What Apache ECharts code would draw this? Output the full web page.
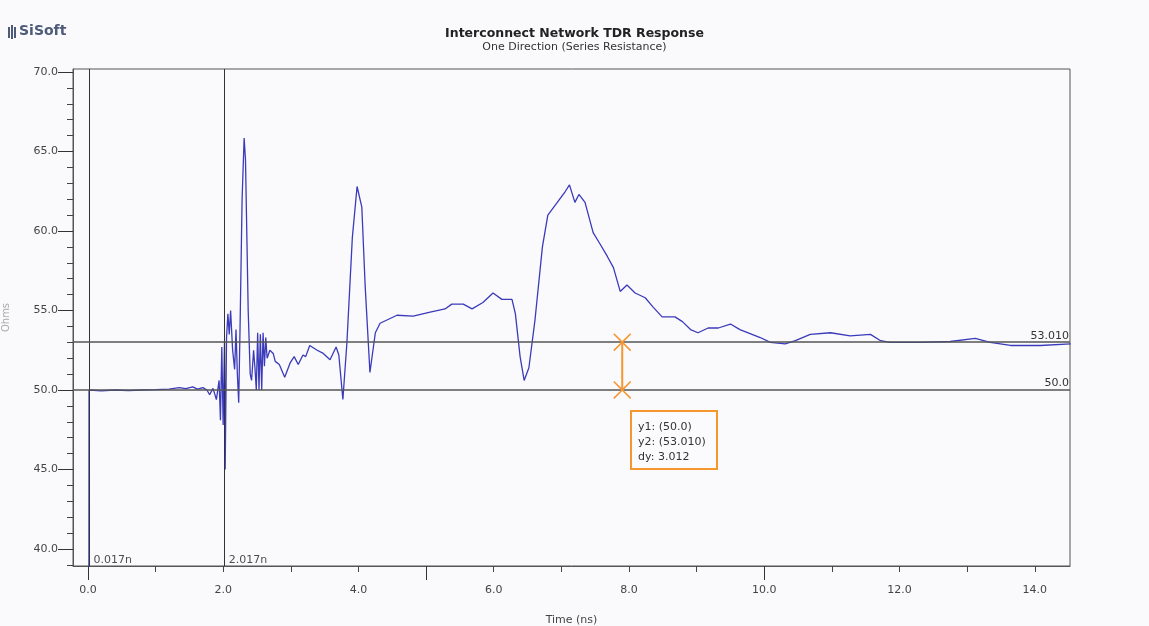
<!DOCTYPE html>
<html lang="en">
<head>
    <meta charset="UTF-8">
    <title>Interconnect Network TDR Response</title>
    <script src="https://cdn.jsdelivr.net/npm/echarts@6/dist/echarts.min.js"></script>
    <style>
        html, body { margin: 0; padding: 0; background: #fafafc; }
        #chart { width: 1149px; height: 626px; }
    </style>
</head>
<body>
<div id="chart"></div>
<script type="text/javascript">
    // TDR trace (time in ns, impedance in ohms)
    var timeNs = [0.015, 0.017, 0.2, 0.4, 0.6, 0.8, 1.0, 1.2, 1.35, 1.45, 1.55, 1.62, 1.7, 1.76,
        1.80, 1.85, 1.90, 1.94, 1.96, 1.98, 2.00, 2.02, 2.03, 2.05, 2.07, 2.09, 2.11, 2.14, 2.17,
        2.19, 2.21, 2.23, 2.25, 2.28, 2.31, 2.33, 2.37, 2.40, 2.42, 2.45, 2.47, 2.49, 2.51, 2.53,
        2.55, 2.57, 2.59, 2.61, 2.63, 2.65, 2.69, 2.74, 2.77, 2.83, 2.91, 2.99, 3.05, 3.11, 3.18,
        3.22, 3.28, 3.39, 3.48, 3.58, 3.67, 3.71, 3.77, 3.83, 3.91, 3.98, 4.05, 4.10, 4.17, 4.25,
        4.32, 4.57, 4.81, 5.06, 5.28, 5.38, 5.55, 5.68, 5.84, 5.99, 6.12, 6.27, 6.32, 6.39, 6.45,
        6.52, 6.61, 6.72, 6.80, 6.94, 7.06, 7.12, 7.20, 7.26, 7.35, 7.47, 7.57, 7.68, 7.77, 7.87,
        7.97, 8.09, 8.24, 8.36, 8.49, 8.68, 8.79, 8.91, 9.02, 9.17, 9.32, 9.50, 9.64, 9.94, 10.09,
        10.31, 10.46, 10.68, 10.98, 11.27, 11.57, 11.72, 11.86, 12.31, 12.75, 13.12, 13.34, 13.64,
        14.08, 14.53];
    var ohms = [38.0, 50.0, 49.95, 50.0, 49.96, 50.0, 50.02, 50.06, 50.15, 50.08, 50.2, 50.05, 50.15, 50.0,
        49.7, 50.1, 49.4, 50.6, 48.1, 52.7, 47.8, 53.1, 45.0, 53.3, 54.8, 53.5, 55.0, 52.5, 51.3,
        53.8, 51.0, 49.2, 54.0, 62.0, 65.85, 64.5, 55.0, 51.0, 50.6, 52.5, 51.4, 50.0, 53.6, 50.0,
        53.5, 50.0, 53.6, 51.5, 53.3, 52.0, 52.5, 52.3, 51.8, 51.6, 50.8, 51.7, 52.1, 51.6, 52.2,
        52.1, 52.8, 52.5, 52.3, 51.9, 52.7, 52.2, 49.4, 53.0, 59.6, 62.8, 61.5, 56.5, 51.1, 53.6,
        54.2, 54.7, 54.65, 54.9, 55.1, 55.4, 55.4, 55.1, 55.5, 56.1, 55.7, 55.7, 54.8, 52.1, 50.6,
        51.4, 54.4, 59.0, 61.0, 61.8, 62.5, 62.9, 61.8, 62.3, 61.8, 59.9, 59.2, 58.4, 57.7, 56.2,
        56.6, 56.1, 55.8, 55.2, 54.6, 54.6, 54.3, 53.8, 53.6, 53.9, 53.9, 54.15, 53.8, 53.3, 53.0,
        52.9, 53.1, 53.5, 53.6, 53.4, 53.5, 53.1, 53.0, 53.0, 53.05, 53.25, 53.0, 52.8,
        52.8, 52.9];

    // cursors and measurement
    var cursorTimes = [0.017, 2.017];
    var cursorLabels = ['0.017n', '2.017n'];
    var levelValues = [53.010, 50.0];
    var levelLabels = ['53.010', '50.0'];
    var measureTime = 7.9;
    var measureText = ['y1: (50.0)', 'y2: (53.010)', 'dy: 3.012'];

    // axis ticks
    var xLabelValues = [0, 2, 4, 6, 8, 10, 12, 14];
    var xMinorTicks = [0, 1, 2, 3, 4, 5, 6, 7, 8, 9, 10, 11, 12, 13, 14];
    var xMajorTicks = [0, 5, 10];
    var yLabelValues = [40, 45, 50, 55, 60, 65, 70];
    var yMinorTicks = [];
    for (var i = 39; i <= 70; i++) yMinorTicks.push(i);

    var trace = [];
    for (var i = 0; i < timeNs.length; i++) {
        trace.push([timeNs[i], ohms[i]]);
    }

    var xMin = -0.22, xMax = 14.52, yMin = 38.93, yMax = 70.19;
    var axisColor = '#555';
    var orange = '#f5962f';
    var xSymbol = 'path://M0,1L1,0L8,7L15,0L16,1L9,8L16,15L15,16L8,9L1,16L0,15L7,8Z';

    var myChart = echarts.init(document.getElementById('chart'));
    var option = {
        backgroundColor: '#fafafc',
        animation: false,
        textStyle: { fontFamily: 'DejaVu Sans' },
        title: {
            text: 'Interconnect Network TDR Response',
            subtext: 'One Direction (Series Resistance)',
            left: 'center',
            top: 22,
            itemGap: 2,
            textStyle: { fontSize: 12.5, fontWeight: 'bold', color: '#222', fontFamily: 'DejaVu Sans' },
            subtextStyle: { fontSize: 11, color: '#333', fontFamily: 'DejaVu Sans' }
        },
        grid: {
            left: 73,
            right: 79,
            top: 69,
            bottom: 60,
            outerBoundsMode: 'none',
            containLabel: false,
            show: true,
            borderColor: axisColor,
            borderWidth: 1,
            backgroundColor: '#fafafc'
        },
        xAxis: [
            {
                type: 'value',
                min: xMin,
                max: xMax,
                name: 'Time (ns)',
                nameLocation: 'middle',
                nameGap: 49,
                nameTextStyle: { fontSize: 11, color: '#444' },
                splitLine: { show: false },
                axisLine: { onZero: false, lineStyle: { color: axisColor } },
                axisTick: { customValues: xMinorTicks, length: 6, lineStyle: { color: '#444' } },
                axisLabel: {
                    customValues: xLabelValues,
                    margin: 19,
                    fontSize: 11,
                    color: '#444',
                    formatter: function (v) { return v.toFixed(1); }
                }
            },
            {
                type: 'value',
                position: 'bottom',
                min: xMin,
                max: xMax,
                splitLine: { show: false },
                axisLine: { show: false, onZero: false },
                axisTick: { customValues: xMajorTicks, length: 14, lineStyle: { color: '#333' } },
                axisLabel: { show: false }
            }
        ],
        yAxis: [
            {
                type: 'value',
                min: yMin,
                max: yMax,
                name: 'Ohms',
                nameLocation: 'middle',
                nameGap: 62,
                nameTextStyle: { fontSize: 10, color: '#aaa' },
                splitLine: { show: false },
                axisLine: { onZero: false, lineStyle: { color: axisColor } },
                axisTick: { customValues: yMinorTicks, length: 6, lineStyle: { color: '#444' } },
                axisLabel: {
                    customValues: yLabelValues,
                    margin: 15,
                    fontSize: 11,
                    color: '#444',
                    formatter: function (v) { return v.toFixed(1); }
                }
            },
            {
                type: 'value',
                position: 'left',
                min: yMin,
                max: yMax,
                splitLine: { show: false },
                axisLine: { show: false, onZero: false },
                axisTick: { customValues: yLabelValues, length: 15, lineStyle: { color: '#333' } },
                axisLabel: { show: false }
            }
        ],
        series: [
            {
                name: 'TDR',
                type: 'line',
                data: trace,
                symbol: 'none',
                clip: true,
                z: 3,
                lineStyle: { color: '#3a3abb', width: 1.3 },
                markLine: {
                    silent: true,
                    symbol: 'none',
                    animation: false,
                    data: [
                        { xAxis: cursorTimes[0], lineStyle: { color: '#333', width: 1, type: 'solid' }, label: { show: false } },
                        { xAxis: cursorTimes[1], lineStyle: { color: '#333', width: 1, type: 'solid' }, label: { show: false } },
                        {
                            yAxis: levelValues[0],
                            lineStyle: { color: '#555', width: 1.5, type: 'solid' },
                            label: { show: true, position: 'insideEndTop', formatter: levelLabels[0], distance: 1, fontSize: 11, color: '#333' }
                        },
                        {
                            yAxis: levelValues[1],
                            lineStyle: { color: '#555', width: 1.5, type: 'solid' },
                            label: { show: true, position: 'insideEndTop', formatter: levelLabels[1], distance: 1, fontSize: 11, color: '#333' }
                        }
                    ]
                }
            },
            {
                name: 'cursor labels',
                type: 'scatter',
                symbolSize: 1,
                itemStyle: { color: 'rgba(0,0,0,0)' },
                silent: true,
                data: [
                    { value: [cursorTimes[0], 39.3], label: { formatter: cursorLabels[0] } },
                    { value: [cursorTimes[1], 39.3], label: { formatter: cursorLabels[1] } }
                ],
                label: { show: true, position: 'right', distance: 4, fontSize: 11, color: '#222' }
            },
            {
                name: 'measure',
                type: 'line',
                data: [[measureTime, levelValues[1]], [measureTime, levelValues[0]]],
                symbol: xSymbol,
                symbolSize: 18,
                showSymbol: true,
                z: 5,
                itemStyle: { color: orange },
                lineStyle: { color: orange, width: 2 }
            }
        ],
        graphic: [
            // logo
            { type: 'rect', left: 8, top: 27, shape: { width: 2, height: 11 }, style: { fill: '#4d5a78' } },
            { type: 'rect', left: 11, top: 25, shape: { width: 2, height: 14 }, style: { fill: '#4d5a78' } },
            { type: 'rect', left: 14, top: 27, shape: { width: 2, height: 11 }, style: { fill: '#4d5a78' } },
            {
                type: 'text', left: 19, top: 24,
                style: { text: 'SiSoft', fontSize: 14, fontWeight: 'bold', fill: '#4d5a78', fontFamily: 'DejaVu Sans' }
            },
            // measurement box
            {
                type: 'rect', left: 630, top: 410, z: 10,
                shape: { width: 86, height: 58 },
                style: { fill: '#fbfbfd', stroke: orange, lineWidth: 2 }
            },
            {
                type: 'text', left: 638, top: 420, z: 11,
                style: { text: measureText.join('\n'), fontSize: 11, lineHeight: 15, fill: '#333', fontFamily: 'DejaVu Sans' }
            }
        ]
    };
    myChart.setOption(option);
</script>
</body>
</html>
